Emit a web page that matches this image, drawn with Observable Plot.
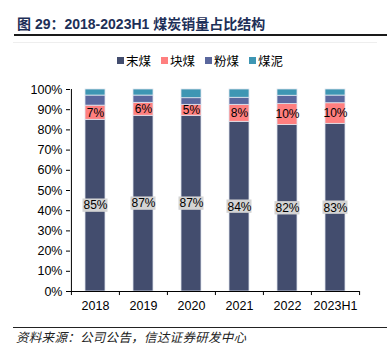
<!DOCTYPE html>
<html>
<head>
<meta charset="utf-8">
<script src="https://cdn.jsdelivr.net/npm/d3@7"></script>
<script src="https://cdn.jsdelivr.net/npm/@observablehq/plot@0.6"></script>
<style>
  html, body { margin: 0; padding: 0; background: #fff; }
  #wrap { position: relative; width: 388px; height: 346px; overflow: hidden; font-family: "Liberation Sans", Arial, "Noto Sans CJK SC", sans-serif; }
  #title { position: absolute; left: 17px; top: 13px; font-size: 14px; font-weight: bold; color: #1d2f57; white-space: nowrap; font-family: "Liberation Sans", Arial, "Noto Sans CJK SC", sans-serif; }
  #tline { position: absolute; left: 14px; top: 34px; width: 373px; height: 2px; background: #1a1a1a; }
  #frame { position: absolute; left: 13px; top: 42px; width: 364px; height: 0; border-top: 1px solid #eeeeee; }
  #legend { position: absolute; left: 0; width: 388px; top: 51px; display: flex; justify-content: center; font-size: 12.5px; color: #000; padding-left: 12px; box-sizing: border-box; }
  #legend .it { display: flex; align-items: center; margin: 0 5px; }
  #legend .sw { width: 7px; height: 7px; margin-right: 2px; }
  #plot { position: absolute; left: 0; top: 70px; }
  #fline { position: absolute; left: 13px; top: 327px; width: 374px; height: 1px; background: #222; }
  #foot { position: absolute; left: 16px; top: 330px; font-size: 12.5px; line-height: 14px; font-style: italic; color: #222; white-space: nowrap; font-family: "Noto Sans CJK SC", sans-serif; letter-spacing: 0.3px; }
</style>
</head>
<body>
<div id="wrap">
  <div id="title">图 29：2018-2023H1 煤炭销量占比结构</div>
  <div id="tline"></div>
  <div id="frame"></div>
  <div id="legend"></div>
  <div id="plot"></div>
  <div id="fline"></div>
  <div id="foot">资料来源：公司公告，信达证券研发中心</div>
</div>
<script>
// Categories (years) and series values (% of sales volume)
const years = ["2018", "2019", "2020", "2021", "2022", "2023H1"];
const seriesNames = ["末煤", "块煤", "粉煤", "煤泥"];
const seriesColors = ["#434d6e", "#ff7f7f", "#5a679d", "#3e96b3"];
const moMei   = [85, 87, 87, 84, 82.4, 83];      // 末煤
const kuaiMei = [7, 6.4, 5.4, 8.4, 10.4, 10.2];  // 块煤
const fenMei  = [5, 3.6, 3.3, 3.5, 4.1, 3.8];    // 粉煤
const meiNi   = [3, 3, 4.3, 4.1, 3.1, 3.0];      // 煤泥
const yTicks = [0, 10, 20, 30, 40, 50, 60, 70, 80, 90, 100];

const seriesValues = [moMei, kuaiMei, fenMei, meiNi];
const data = [];
years.forEach((yr, i) => {
  seriesNames.forEach((s, j) => {
    data.push({year: yr, series: s, value: seriesValues[j][i], idx: j});
  });
});

// label positions (segment midpoints)
const moLabels = years.map((yr, i) => ({year: yr, mid: moMei[i] / 2, text: Math.round(moMei[i]) + "%"}));
const kuaiLabels = years.map((yr, i) => ({year: yr, mid: moMei[i] + kuaiMei[i] / 2, text: Math.round(kuaiMei[i]) + "%"}));

// legend
const leg = document.getElementById("legend");
seriesNames.forEach((s, j) => {
  const it = document.createElement("div");
  it.className = "it";
  it.innerHTML = `<span class="sw" style="background:${seriesColors[j]}"></span><span>${s}</span>`;
  leg.appendChild(it);
});

const W = 388, H = 250;
const mL = 70, mR = 29, mT = 19, mB = 29;
const step = (W - mL - mR) / years.length;

const chart = Plot.plot({
  width: W,
  height: H,
  marginLeft: mL,
  marginRight: mR,
  marginTop: mT,
  marginBottom: mB,
  style: {fontFamily: "Liberation Sans, Arial, sans-serif", fontSize: "12.5px", color: "#000", background: "transparent", overflow: "visible"},
  x: {domain: years, paddingInner: 0.585, paddingOuter: 0.2925, label: null},
  y: {domain: [0, 100], label: null},
  color: {domain: seriesNames, range: seriesColors},
  marks: [
    Plot.barY(data, Plot.stackY({x: "year", y: "value", fill: "series", order: seriesNames, stroke: "#dfe4ee", strokeWidth: 0.8})),
    // gray label boxes behind 末煤 labels
    Plot.rect(moLabels, {x: "year", y1: d => d.mid - 3.3, y2: d => d.mid + 3.3, fill: "#d4d4d4", insetLeft: -2.5, insetRight: -2.5}),
    Plot.text(moLabels, {x: "year", y: "mid", text: "text", fill: "#000", fontSize: 12}),
    Plot.text(kuaiLabels, {x: "year", y: "mid", text: "text", fill: "#000", fontSize: 12}),
    // y axis
    Plot.axisY({ticks: yTicks, tickFormat: d => d + "%", tickSize: 4, tickPadding: 4, fontSize: 12.5}),
    Plot.ruleX([0], {x: () => years[0], dx: -step / 2, stroke: "#000"}),
    // x axis
    Plot.axisX({tickSize: 0, tickPadding: 10, fontSize: 12.5}),
    Plot.ruleY([0], {stroke: "#000"}),
    Plot.ruleX(years, {x: d => d, dx: -step / 2, y1: 0, y2: -2, stroke: "#000"}),
    Plot.ruleX([years[years.length - 1]], {x: d => d, dx: step / 2, y1: 0, y2: -2, stroke: "#000"})
  ]
});
document.getElementById("plot").appendChild(chart);
</script>
</body>
</html>
